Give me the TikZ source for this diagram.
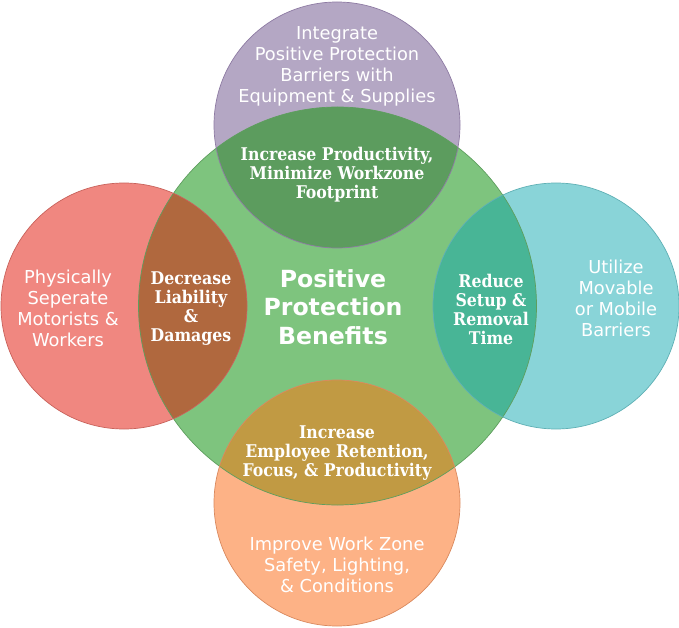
\documentclass[tikz,border=0pt]{standalone}
\usepackage{fontspec}
\setmainfont{DejaVu Sans}
\newfontfamily\serifb{DejaVu Serif Condensed}[BoldFont={DejaVu Serif Condensed Bold}]
\definecolor{cGreen}{HTML}{7EC47E}
\definecolor{bGreen}{HTML}{5E9E5E}
\definecolor{cPurple}{HTML}{B4A7C4}
\definecolor{bPurple}{HTML}{8E7BA3}
\definecolor{iPurple}{HTML}{5C9C5E}
\definecolor{cRed}{HTML}{F08780}
\definecolor{bRed}{HTML}{C8625B}
\definecolor{iRed}{HTML}{B0683E}
\definecolor{cTeal}{HTML}{89D4D8}
\definecolor{bTeal}{HTML}{5FB0B5}
\definecolor{iTeal}{HTML}{48B596}
\definecolor{cOrange}{HTML}{FDB286}
\definecolor{bOrange}{HTML}{D9895E}
\definecolor{iOrange}{HTML}{C19A43}
\begin{document}
\begin{tikzpicture}[x=1pt,y=1pt,
  outer/.style={text=white,align=center,font=\fontsize{17.8}{21}\selectfont},
  inner/.style={text=white,align=center,font=\serifb\bfseries\fontsize{17.5}{19}\selectfont},
  mid/.style={text=white,align=center,font=\bfseries\fontsize{23.6}{28.5}\selectfont}]
\useasboundingbox (0,0) rectangle (679,627);
% centres (y flipped: y' = 627 - y)
\coordinate (G) at (337.5,321);
\coordinate (P) at (337,502);
\coordinate (R) at (124,321);
\coordinate (T) at (556,321);
\coordinate (O) at (337,124);
\def\rG{199}\def\rS{123}
% fills
\fill[cGreen] (G) circle (\rG);
\fill[cPurple] (P) circle (\rS);
\fill[cRed] (R) circle (\rS);
\fill[cTeal] (T) circle (\rS);
\fill[cOrange] (O) circle (\rS);
\begin{scope}\clip (G) circle (\rG);
  \fill[iPurple] (P) circle (\rS);
  \fill[iRed] (R) circle (\rS);
  \fill[iTeal] (T) circle (\rS);
  \fill[iOrange] (O) circle (\rS);
\end{scope}
% borders
\draw[bGreen,line width=0.7pt] (G) circle (\rG);
\draw[bPurple,line width=0.7pt] (P) circle (\rS);
\draw[bRed,line width=0.7pt] (R) circle (\rS);
\draw[bTeal,line width=0.7pt] (T) circle (\rS);
\draw[bOrange,line width=0.7pt] (O) circle (\rS);
% texts
\node[outer] (tP) at (337,561) {Integrate\\Positive Protection\\Barriers with\\Equipment \& Supplies};
\node[inner] (iP) at (337,452) {Increase Productivity,\\Minimize Workzone\\Footprint};
\node[outer] (tR) at (68,319) {Physically\\Seperate\\Motorists \&\\Workers};
\node[inner] (iR) at (191,318) {Decrease\\Liability\\\&\\Damages};
\node[mid] (tC) at (333,320) {Positive\\Protection\\Benefits};
\node[inner] (iT) at (491,318) {Reduce\\Setup \&\\Removal\\Time};
\node[outer] (tT) at (616,329) {Utilize\\Movable\\or Mobile\\Barriers};
\node[inner] (iO) at (337,174) {Increase\\Employee Retention,\\Focus, \& Productivity};
\node[outer] (tO) at (337,62) {Improve Work Zone\\Safety, Lighting,\\\& Conditions};
\end{tikzpicture}
\end{document}
